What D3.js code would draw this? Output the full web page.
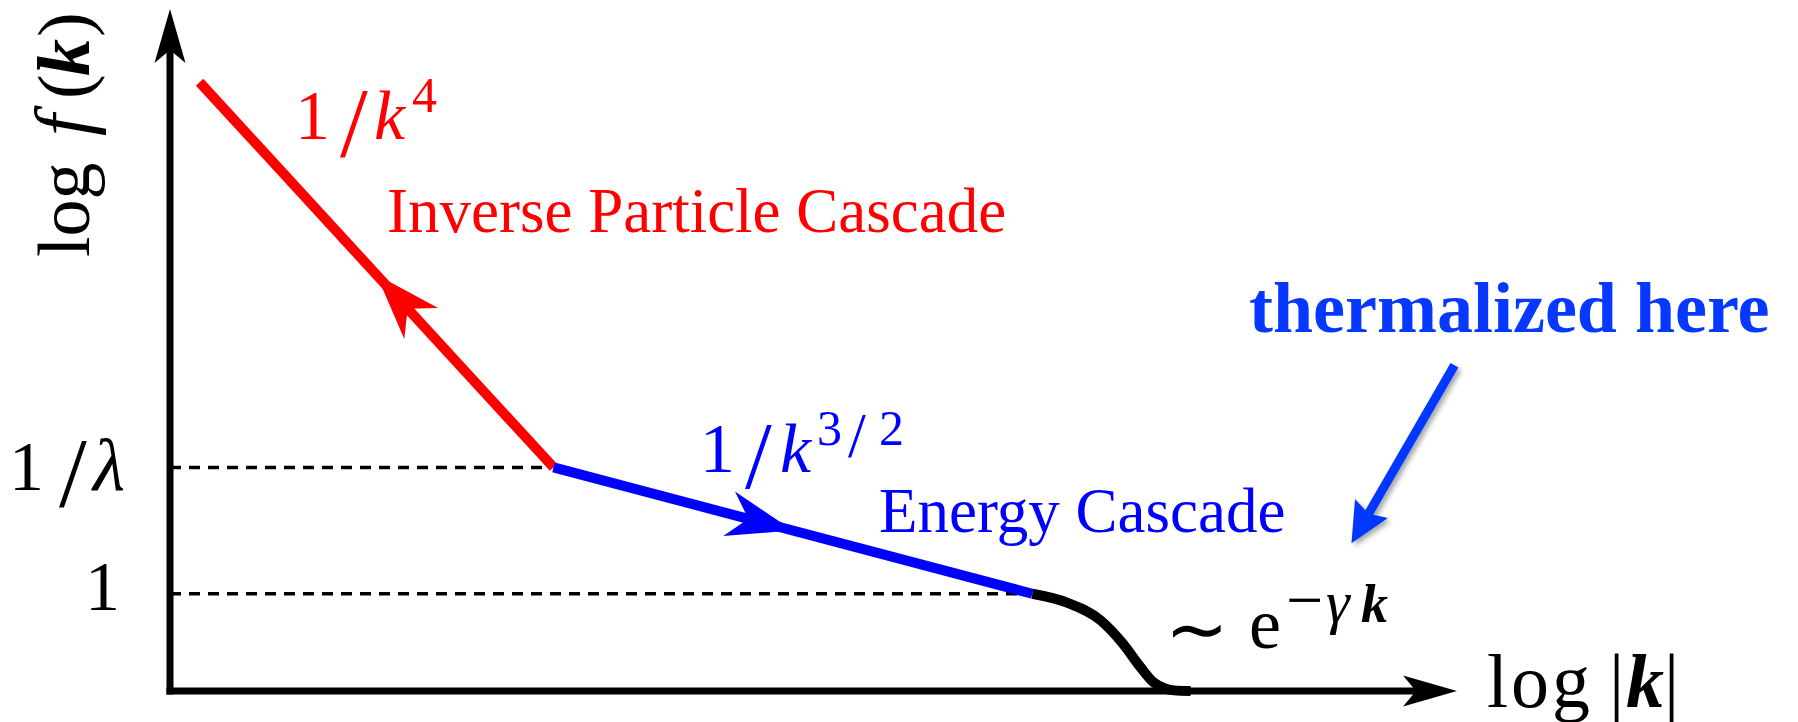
<!DOCTYPE html>
<html>
<head>
<meta charset="utf-8">
<script src="https://cdn.jsdelivr.net/npm/d3@7"></script>
<style>
  html, body { margin: 0; padding: 0; background: #fff; }
  svg { display: block; }
  text { font-family: "Liberation Serif", "Times New Roman", serif; }
</style>
</head>
<body>
<svg id="chart" width="1798" height="722"></svg>
<script>
// Schematic occupation spectrum: log f(k) versus log |k|

// Axis extents (log units)
const logKDomain = [0, 10];
const logFDomain = [-0.77, 4.63];

// Inverse particle cascade, ~1/k^4 (drawn from the large-k end toward small k)
const inverseLogK = [0.23, 2.98];
const inverseLogF = [4.05, 1.0];

// Energy cascade, ~1/k^{3/2}
const energyLogK = [2.98, 6.70];
const energyLogF = [1.0, 0.0];

// Thermal tail ~ exp(-gamma k)
const tailLogK = [6.70, 6.97, 7.23, 7.40, 7.54, 7.64, 7.72, 7.80, 7.93];
const tailLogF = [0.0, -0.07, -0.21, -0.39, -0.58, -0.70, -0.745, -0.765, -0.77];

// Reference levels marked on the vertical axis
const levelLogF = [1.0, 0.0];
const levelNames = ["1/λ", "1"];

// Pointer to the thermalized region (tail -> head)
const pointerLogK = [9.98, 9.18];
const pointerLogF = [1.81, 0.40];

const svg = d3.select("#chart");

const x = d3.scaleLinear().domain(logKDomain).range([170, 1457]);
const y = d3.scaleLinear().domain(logFDomain).range([691, 9]);

const BLACK = "#000", RED = "#ff0000", BLUE = "#0000ff", POINTER = "#0638ff";

const defs = svg.append("defs");
const shadow = defs.append("filter").attr("id", "pointerShadow")
  .attr("x", "-30%").attr("y", "-30%").attr("width", "160%").attr("height", "160%");
shadow.append("feDropShadow").attr("dx", 3).attr("dy", 3)
  .attr("stdDeviation", 2.5).attr("flood-color", "#000").attr("flood-opacity", 0.35);

// Arrowhead polygon: tip p, unit direction u, length L, half-width w, notch depth n
function headPoints(p, u, L, w, n) {
  const nx = -u[1], ny = u[0];
  const bx = p[0] - L * u[0], by = p[1] - L * u[1];
  return [
    [p[0], p[1]],
    [bx + w * nx, by + w * ny],
    [p[0] - n * u[0], p[1] - n * u[1]],
    [bx - w * nx, by - w * ny]
  ];
}
function unit(a, b) {
  const dx = b[0] - a[0], dy = b[1] - a[1], l = Math.hypot(dx, dy);
  return [dx / l, dy / l];
}
const line = d3.line();

// Dashed reference levels
const x0 = x(logKDomain[0]);
const levelEnds = [
  [x(inverseLogK[1]), y(inverseLogF[1])],
  [x(energyLogK[1]), y(energyLogF[1])]
];
svg.append("g").selectAll("line").data(levelLogF).join("line")
  .attr("x1", x0).attr("x2", (d, i) => levelEnds[i][0] - 4)
  .attr("y1", d => y(d)).attr("y2", d => y(d))
  .attr("stroke", BLACK).attr("stroke-width", 3.5)
  .attr("stroke-dasharray", "11 8");

// Axes with arrowheads
const origin = [x(logKDomain[0]), y(logFDomain[0])];
const yTip = [origin[0], y(logFDomain[1])];
const xTip = [x(logKDomain[1]), origin[1]];
const axisG = svg.append("g");
const yHead = headPoints(yTip, [0, -1], 54, 15.5, 41);
const xHead = headPoints(xTip, [1, 0], 54, 15.5, 41);
axisG.append("path").attr("d", line([[origin[0], origin[1] + 3.5], yHead[2]]))
  .attr("stroke", BLACK).attr("stroke-width", 7).attr("fill", "none");
axisG.append("path").attr("d", line([[origin[0] - 3.5, origin[1]], xHead[2]]))
  .attr("stroke", BLACK).attr("stroke-width", 7).attr("fill", "none");
axisG.append("polygon").attr("points", yHead.join(" ")).attr("fill", BLACK);
axisG.append("polygon").attr("points", xHead.join(" ")).attr("fill", BLACK);

// Thermal tail
const tailPts = tailLogK.map((k, i) => [x(k), y(tailLogF[i])]);
svg.append("path")
  .attr("d", d3.line().curve(d3.curveMonotoneX)(tailPts))
  .attr("fill", "none").attr("stroke", BLACK).attr("stroke-width", 10);

// Power-law segments with direction arrows at their midpoints
function cascade(ks, fs, color, reverse) {
  const pts = ks.map((k, i) => [x(k), y(fs[i])]);
  svg.append("path").attr("d", line(pts))
    .attr("fill", "none").attr("stroke", color).attr("stroke-width", 10)
    .attr("stroke-linecap", "butt");
  const mid = [(pts[0][0] + pts[1][0]) / 2, (pts[0][1] + pts[1][1]) / 2];
  const u = reverse ? unit(pts[1], pts[0]) : unit(pts[0], pts[1]);
  svg.append("polygon").attr("points", headPoints(mid, u, 66, 23, 46).join(" "))
    .attr("fill", color);
}
cascade(inverseLogK, inverseLogF, RED, true);
cascade(energyLogK, energyLogF, BLUE, false);

// Pointer to the thermalized region
const pTail = [x(pointerLogK[0]), y(pointerLogF[0])];
const pTip = [x(pointerLogK[1]), y(pointerLogF[1])];
const pu = unit(pTail, pTip);
const pHead = headPoints(pTip, pu, 40, 19, 34);
const pg = svg.append("g").attr("filter", "url(#pointerShadow)");
pg.append("path").attr("d", line([pTail, pHead[2]]))
  .attr("stroke", POINTER).attr("stroke-width", 9).attr("fill", "none");
pg.append("polygon").attr("points", pHead.join(" ")).attr("fill", POINTER);

// Rich text helper: parts positioned along the baseline
function mathText(parent, bx, by, size, color, parts) {
  const t = parent.append("text").attr("x", bx).attr("y", by)
    .attr("font-size", size).attr("fill", color);
  parts.forEach(p => {
    const s = t.append("tspan").text(p.t)
      .attr("x", bx + p.dx)
      .attr("y", by + (p.dy || 0));
    if (p.size) s.attr("font-size", p.size);
    if (p.i) s.attr("font-style", "italic");
    if (p.b) s.attr("font-weight", "bold");
    if (p.font) s.attr("font-family", p.font);
    if (p.ls) s.attr("letter-spacing", p.ls);
  });
  return t;
}

// Level labels
mathText(svg, 9, y(levelLogF[0]) + 23, 70, BLACK, [
  { t: "1", dx: 0 }, { t: "/", dx: 50, dy: 16, size: 100 },
  { t: "λ", dx: 84, i: true, size: 74 }
]);
svg.append("text").attr("x", 120).attr("y", y(levelLogF[1]) + 16)
  .attr("text-anchor", "end").attr("font-size", 70).attr("fill", BLACK)
  .text(levelNames[1]);

// Axis titles
const yTitle = svg.append("g").attr("transform", "translate(89,257) rotate(-90)");
mathText(yTitle, 0, 0, 74, BLACK, [
  { t: "log", dx: 0 }, { t: "f", dx: 121, i: true, size: 78 }, { t: "(", dx: 158 },
  { t: "k", dx: 181, i: true, b: true }, { t: ")", dx: 220 }
]);
mathText(svg, 1487, 707, 76, BLACK, [
  { t: "log", dx: 0, ls: 3 }, { t: "|", dx: 122 }, { t: "k", dx: 139, i: true, b: true },
  { t: "|", dx: 177 }
]);

// Slope labels
mathText(svg, 295, 139, 70, RED, [
  { t: "1", dx: 0 }, { t: "/", dx: 45, dy: 17, size: 100 }, { t: "k", dx: 79, i: true },
  { t: "4", dx: 117, dy: -27, size: 50 }
]);
mathText(svg, 700, 472, 70, BLUE, [
  { t: "1", dx: 0 }, { t: "/", dx: 45, dy: 16, size: 96 }, { t: "k", dx: 80, i: true },
  { t: "3", dx: 117, dy: -27, size: 50 }, { t: "/", dx: 148, dy: -15, size: 64 },
  { t: "2", dx: 179, dy: -27, size: 50 }
]);
mathText(svg, 1165, 655, 72, BLACK, [
  { t: "∼", dx: 0, size: 76, font: "DejaVu Sans" }, { t: "e", dx: 84, dy: -7 },
  { t: "−", dx: 121, dy: -33, size: 66 }, { t: "γ", dx: 161, dy: -33, size: 60, i: true },
  { t: "k", dx: 196, dy: -33, size: 54, i: true, b: true }
]);

// Process labels
svg.append("text").attr("x", 387).attr("y", 232).attr("font-size", 63)
  .attr("fill", RED).text("Inverse Particle Cascade");
svg.append("text").attr("x", 879).attr("y", 532).attr("font-size", 63)
  .attr("fill", BLUE).text("Energy Cascade");
svg.append("text").attr("x", 1249).attr("y", 332).attr("font-size", 72)
  .attr("font-weight", "bold").attr("fill", POINTER).text("thermalized here");
</script>
</body>
</html>
